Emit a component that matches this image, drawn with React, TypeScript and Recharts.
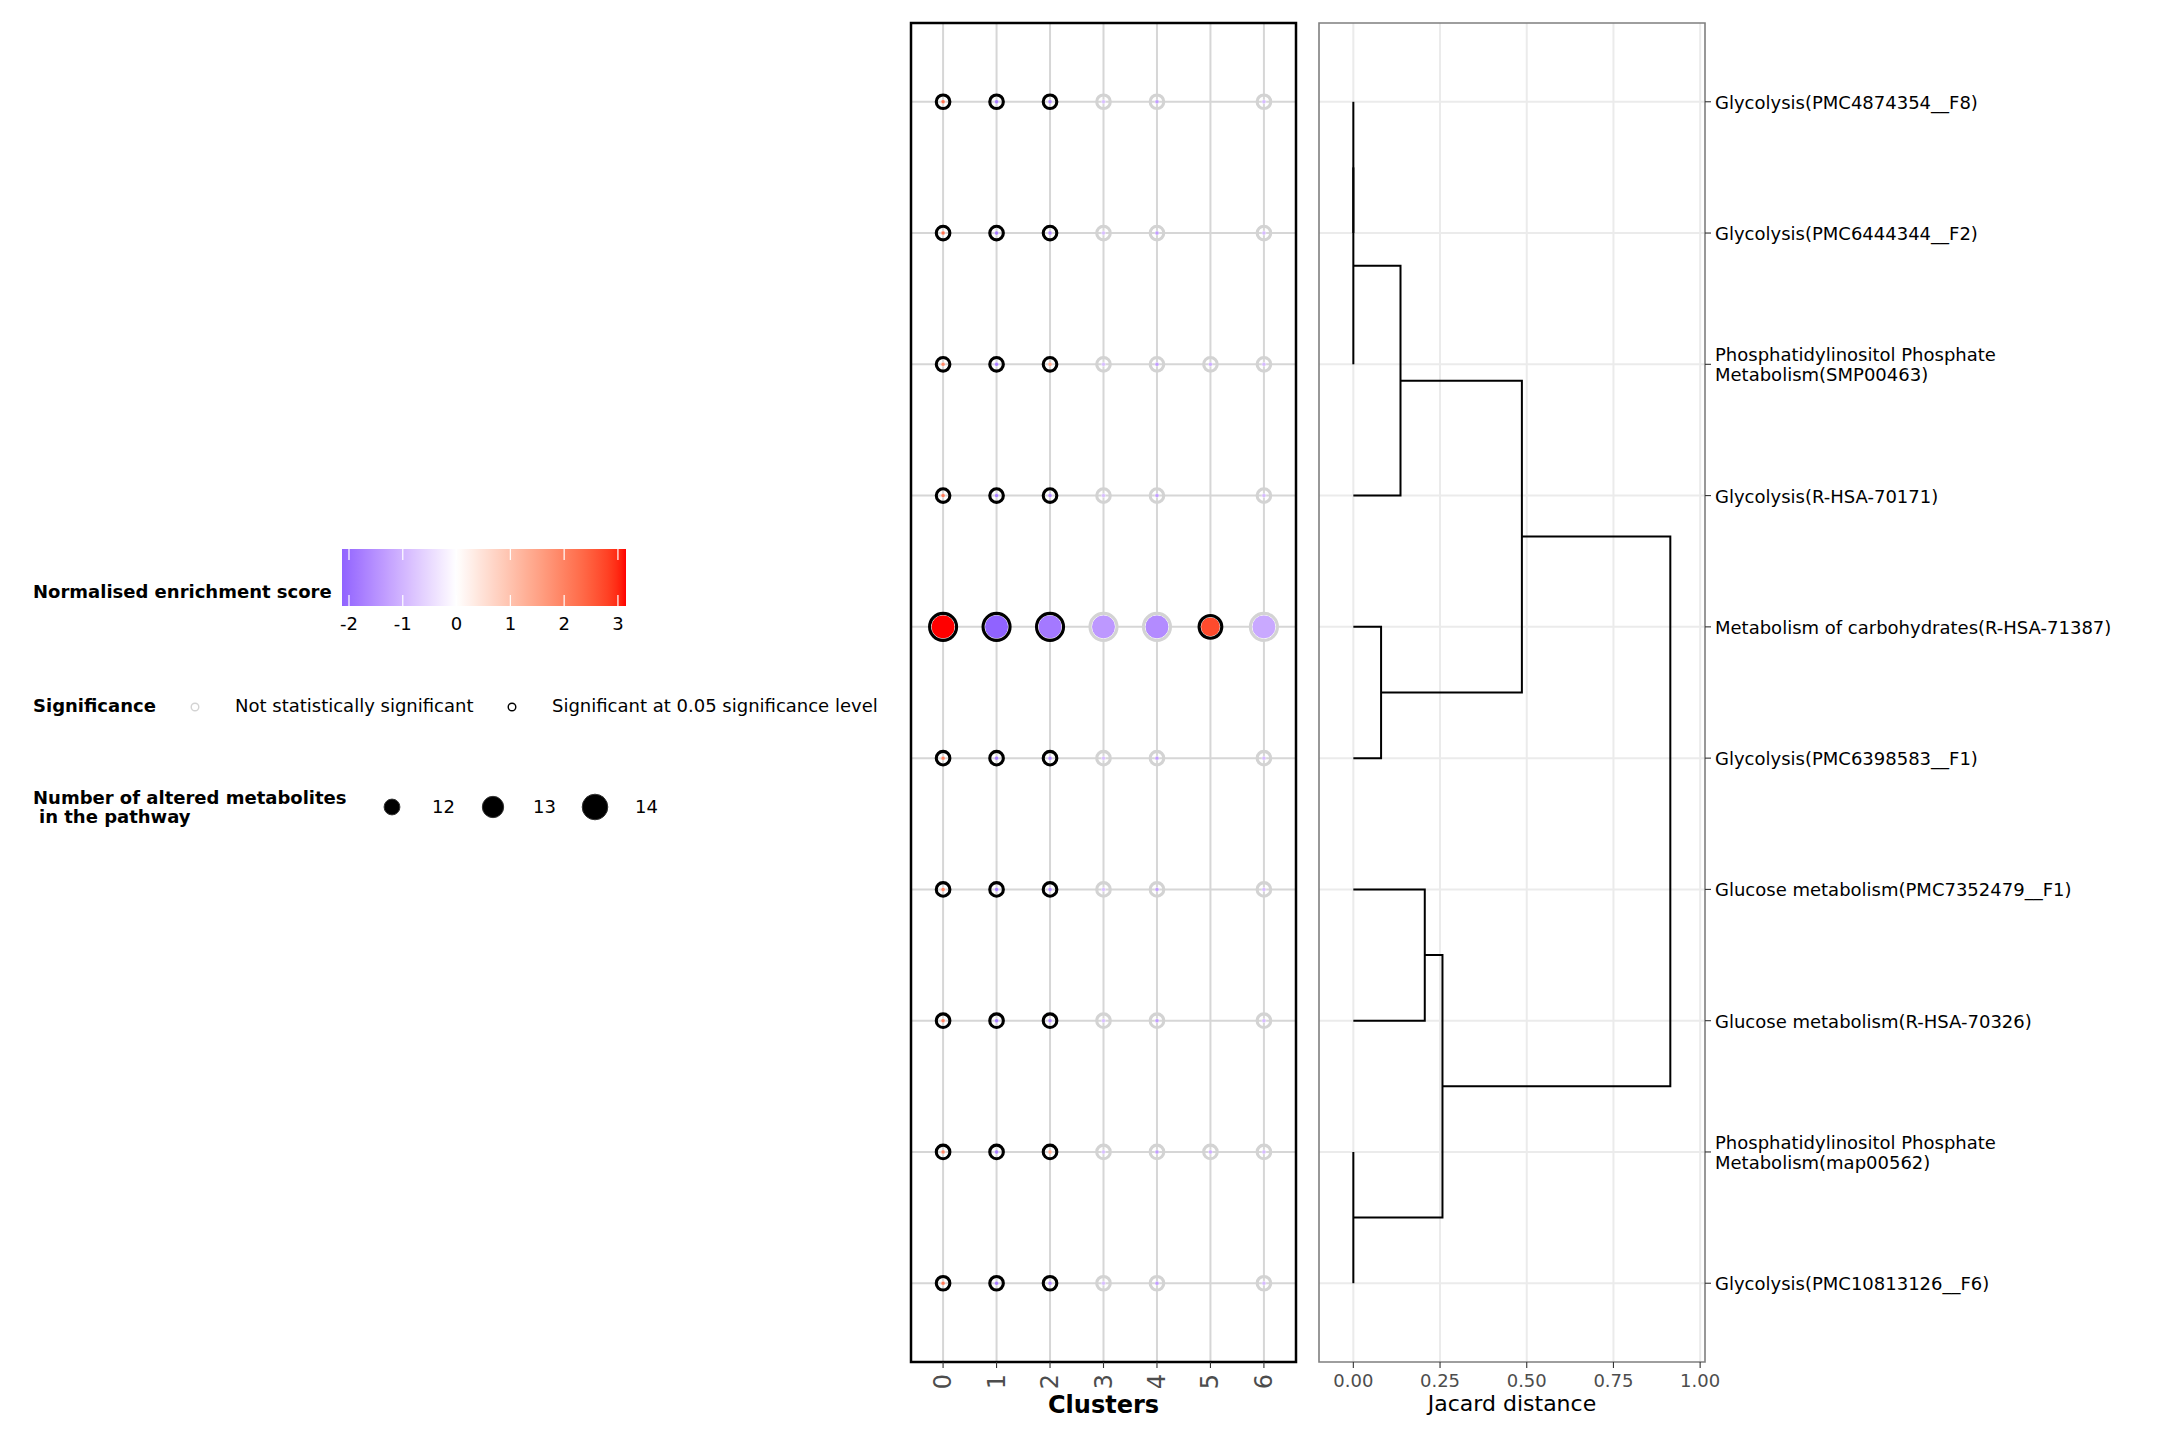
import React from 'react';
import { ScatterChart, Scatter, XAxis, YAxis, ZAxis, CartesianGrid, ReferenceArea } from 'recharts';

const FONT = '"DejaVu Sans", Verdana, sans-serif';
const TXT = 18;

// ---------- data ----------
const clusters = [0, 1, 2, 3, 4, 5, 6];
const rowIndex = [1, 2, 3, 4, 5, 6, 7, 8, 9, 10];
const pathways = [
  'Glycolysis(PMC4874354__F8)',
  'Glycolysis(PMC6444344__F2)',
  'Phosphatidylinositol Phosphate\nMetabolism(SMP00463)',
  'Glycolysis(R-HSA-70171)',
  'Metabolism of carbohydrates(R-HSA-71387)',
  'Glycolysis(PMC6398583__F1)',
  'Glucose metabolism(PMC7352479__F1)',
  'Glucose metabolism(R-HSA-70326)',
  'Phosphatidylinositol Phosphate\nMetabolism(map00562)',
  'Glycolysis(PMC10813126__F6)',
];

// normalised enrichment score per pathway (rows) and cluster (columns); null = not tested
const nesValues: (number | null)[][] = [
  [2.2, -1.8, -1.6, -0.85, -1.3, null, -0.9],
  [2.2, -1.8, -1.6, -0.85, -1.3, null, -0.9],
  [1.9, -1.8, 1.4, -0.85, -1.3, -1.1, -0.9],
  [2.1, -1.8, -1.6, -0.85, -1.3, null, -0.9],
  [3.15, -2.13, -1.83, -1.4, -1.58, 2.7, -1.17],
  [2.0, -1.8, -1.6, -0.85, -1.3, null, -0.9],
  [2.0, -1.8, -1.6, -0.85, -1.3, null, -0.9],
  [2.0, -1.8, -1.6, -0.85, -1.3, null, -0.9],
  [1.9, -1.8, 1.4, -0.85, -1.3, -1.1, -0.9],
  [2.1, -1.8, -1.6, -0.85, -1.3, null, -0.9],
];

// number of altered metabolites in the pathway
const countValues: (number | null)[][] = [
  [11, 11, 11, 11, 11, null, 11],
  [11, 11, 11, 11, 11, null, 11],
  [11, 11, 11, 11, 11, 11, 11],
  [11, 11, 11, 11, 11, null, 11],
  [14, 14, 14, 14, 14, 13, 14],
  [11, 11, 11, 11, 11, null, 11],
  [11, 11, 11, 11, 11, null, 11],
  [11, 11, 11, 11, 11, null, 11],
  [11, 11, 11, 11, 11, 11, 11],
  [11, 11, 11, 11, 11, null, 11],
];

// 1 = significant at 0.05
const sigValues: (number | null)[][] = [
  [1, 1, 1, 0, 0, null, 0],
  [1, 1, 1, 0, 0, null, 0],
  [1, 1, 1, 0, 0, 0, 0],
  [1, 1, 1, 0, 0, null, 0],
  [1, 1, 1, 0, 0, 1, 0],
  [1, 1, 1, 0, 0, null, 0],
  [1, 1, 1, 0, 0, null, 0],
  [1, 1, 1, 0, 0, null, 0],
  [1, 1, 1, 0, 0, 0, 0],
  [1, 1, 1, 0, 0, null, 0],
];

// hclust-style merge table: negative = leaf (row), positive = earlier merge; third = Jaccard height
const dendroMerges: [number, number, number][] = [
  [-1, -2, 0],
  [1, -3, 0],
  [2, -4, 0.136],
  [-5, -6, 0.08],
  [3, 4, 0.486],
  [-7, -8, 0.206],
  [-9, -10, 0],
  [6, 7, 0.257],
  [5, 8, 0.914],
];

const jacardTicks = [0, 0.25, 0.5, 0.75, 1];
const nesTicks = [-2, -1, 0, 1, 2, 3];
const sizeBreaks = [12, 13, 14];
const sigLabels = ['Not statistically significant', 'Significant at 0.05 significance level'];

// ---------- colour scale (ggplot gradient2 in Lab: blue - white - red) ----------
const allNes = nesValues.flat().filter((v): v is number => v !== null);
const nesMin = Math.min(...allNes);
const nesMax = Math.max(...allNes);
const maxAbs = Math.max(Math.abs(nesMin), Math.abs(nesMax));

function toLin(c: number) {
  const v = c / 255;
  return v <= 0.04045 ? v / 12.92 : Math.pow((v + 0.055) / 1.055, 2.4);
}
function fromLin(c: number) {
  const v = c <= 0.0031308 ? 12.92 * c : 1.055 * Math.pow(c, 1 / 2.4) - 0.055;
  return Math.max(0, Math.min(255, Math.round(v * 255)));
}
const Xn = 0.95047, Yn = 1, Zn = 1.08883;
function f(t: number) {
  const d = 6 / 29;
  return t > d * d * d ? Math.cbrt(t) : t / (3 * d * d) + 4 / 29;
}
function finv(t: number) {
  const d = 6 / 29;
  return t > d ? t * t * t : 3 * d * d * (t - 4 / 29);
}
function rgb2lab([r, g, b]: number[]) {
  const R = toLin(r), G = toLin(g), B = toLin(b);
  const X = 0.4124564 * R + 0.3575761 * G + 0.1804375 * B;
  const Y = 0.2126729 * R + 0.7151522 * G + 0.072175 * B;
  const Z = 0.0193339 * R + 0.119192 * G + 0.9503041 * B;
  const fx = f(X / Xn), fy = f(Y / Yn), fz = f(Z / Zn);
  return [116 * fy - 16, 500 * (fx - fy), 200 * (fy - fz)];
}
function lab2hex([L, a, bb]: number[]) {
  const fy = (L + 16) / 116;
  const fx = fy + a / 500;
  const fz = fy - bb / 200;
  const X = Xn * finv(fx), Y = Yn * finv(fy), Z = Zn * finv(fz);
  const R = 3.2404542 * X - 1.5371385 * Y - 0.4985314 * Z;
  const G = -0.969266 * X + 1.8760108 * Y + 0.041556 * Z;
  const B = 0.0556434 * X - 0.2040259 * Y + 1.0572252 * Z;
  const h = (n: number) => fromLin(n).toString(16).padStart(2, '0');
  return '#' + h(R) + h(G) + h(B);
}
const LAB_LOW = rgb2lab([0, 0, 255]);
const LAB_MID = rgb2lab([255, 255, 255]);
const LAB_HIGH = rgb2lab([255, 0, 0]);
function mix(a: number[], b: number[], t: number) {
  return a.map((v, i) => v + (b[i] - v) * t);
}
function nesColor(v: number) {
  const t = v / (2 * maxAbs) + 0.5;
  if (t < 0.5) return lab2hex(mix(LAB_LOW, LAB_MID, t / 0.5));
  return lab2hex(mix(LAB_MID, LAB_HIGH, Math.min(1, (t - 0.5) / 0.5)));
}

// ---------- derived point list ----------
type Pt = { cluster: number; row: number; nes: number; count: number; sig: number };
const dotPoints: Pt[] = [];
rowIndex.forEach((row, ri) => {
  clusters.forEach((c, ci) => {
    const v = nesValues[ri][ci];
    const n = countValues[ri][ci];
    const s = sigValues[ri][ci];
    if (v !== null && n !== null && s !== null) dotPoints.push({ cluster: c, row, nes: v, count: n, sig: s });
  });
});

// size scale (area, linear) shared by plot and legend
const SIZE_DOMAIN: [number, number] = [11, 14];
const SIZE_RANGE: [number, number] = [Math.PI * 2 * 2, Math.PI * 12 * 12];
function sizeRadius(n: number) {
  const t = (n - SIZE_DOMAIN[0]) / (SIZE_DOMAIN[1] - SIZE_DOMAIN[0]);
  return Math.sqrt((SIZE_RANGE[0] + t * (SIZE_RANGE[1] - SIZE_RANGE[0])) / Math.PI);
}

// dendrogram links from merge table
type LinkPt = { d: number; row: number };
function buildLinks(): LinkPt[][] {
  const nodeY: number[] = [];
  const nodeH: number[] = [];
  const pos = (id: number) => (id < 0 ? { y: rowIndex[-id - 1], h: 0 } : { y: nodeY[id - 1], h: nodeH[id - 1] });
  return dendroMerges.map(([a, b, h], i) => {
    const A = pos(a);
    const B = pos(b);
    nodeY[i] = (A.y + B.y) / 2;
    nodeH[i] = h;
    return [
      { d: A.h, row: A.y },
      { d: h, row: A.y },
      { d: h, row: B.y },
      { d: B.h, row: B.y },
    ];
  });
}
const dendroLinks = buildLinks();

// ---------- renderers ----------
const DotShape = (props: any) => {
  const { cx, cy, payload } = props;
  if (cx == null || cy == null) return <g />;
  const r = props.width ? props.width / 2 : Math.sqrt((props.size ?? 64) / Math.PI);
  const ringR = Math.max(r + 1.5, 6.8);
  return (
    <g>
      <circle cx={cx} cy={cy} r={r} fill={nesColor(payload.nes)} stroke="#ffffff" strokeWidth={r > 4 ? 1 : 0.4} />
      <circle cx={cx} cy={cy} r={ringR} fill="none" stroke={payload.sig ? '#000000' : '#D3D3D3'} strokeWidth={3.1} />
    </g>
  );
};

const NoShape = () => <g />;

const ClusterTick = (props: any) => {
  const { x, y, payload } = props;
  return (
    <text
      x={x}
      y={y}
      transform={`rotate(-90 ${x} ${y})`}
      textAnchor="end"
      dominantBaseline="central"
      fontSize={24}
      fill="#4D4D4D"
      fontFamily={FONT}
    >
      {payload.value}
    </text>
  );
};

const PathwayTick = (props: any) => {
  const { x, y, payload } = props;
  const label = pathways[Math.round(payload.value) - 1] ?? '';
  const lines = label.split('\n');
  const lh = 20;
  const start = -((lines.length - 1) * lh) / 2 + 7;
  return (
    <text x={x} y={y} fontSize={TXT} fill="#000000" fontFamily={FONT} textAnchor="start">
      {lines.map((l, i) => (
        <tspan key={i} x={x} dy={i === 0 ? start : lh}>
          {l}
        </tspan>
      ))}
    </text>
  );
};

// ---------- charts ----------
function DotPlot() {
  return (
    <div style={{ position: 'absolute', left: 0, top: 0 }}>
      <ScatterChart width={1300} height={1440} margin={{ top: 23, right: 4, bottom: 18, left: 911 }}>
        <CartesianGrid
          stroke="#D6D6D6"
          strokeWidth={2}
          verticalValues={clusters}
          horizontalValues={rowIndex}
        />
        <XAxis
          type="number"
          dataKey="cluster"
          domain={[-0.6, 6.6]}
          allowDataOverflow
          ticks={clusters}
          interval={0}
          height={60}
          tickSize={6}
          tickMargin={6}
          axisLine={false}
          tickLine={{ stroke: '#333333', strokeWidth: 1.1 }}
          tick={<ClusterTick />}
          label={{ value: 'Clusters', position: 'insideBottom', offset: 9, fill: '#000000', fontSize: 24, fontWeight: 'bold', fontFamily: FONT }}
        />
        <YAxis type="number" dataKey="row" domain={[0.4, 10.6]} allowDataOverflow reversed hide width={0} ticks={rowIndex} />
        <ZAxis type="number" dataKey="count" domain={SIZE_DOMAIN} range={SIZE_RANGE} />
        <Scatter data={dotPoints} shape={<DotShape />} isAnimationActive={false} />
        <ReferenceArea x1={-0.6} x2={6.6} y1={0.4} y2={10.6} fill="none" stroke="#000000" strokeWidth={2.5} ifOverflow="visible" />
      </ScatterChart>
    </div>
  );
}

function Dendrogram() {
  return (
    <div style={{ position: 'absolute', left: 1310, top: 0 }}>
      <ScatterChart width={850} height={1440} margin={{ top: 23, right: 10, bottom: 18, left: 9 }}>
        <CartesianGrid stroke="#EBEBEB" strokeWidth={2} verticalValues={jacardTicks} horizontalValues={rowIndex} />
        <XAxis
          type="number"
          dataKey="d"
          domain={[-0.099, 1.014]}
          allowDataOverflow
          ticks={jacardTicks}
          interval={0}
          height={60}
          tickSize={6}
          tickMargin={6}
          axisLine={false}
          tickLine={{ stroke: '#333333', strokeWidth: 1.1 }}
          tick={{ fill: '#4D4D4D', fontSize: TXT, fontFamily: FONT }}
          tickFormatter={(v: number) => v.toFixed(2)}
          label={{ value: 'Jacard distance', position: 'insideBottom', offset: 11, fill: '#000000', fontSize: 22, fontFamily: FONT }}
        />
        <YAxis
          type="number"
          dataKey="row"
          orientation="right"
          domain={[0.4, 10.6]}
          allowDataOverflow
          reversed
          ticks={rowIndex}
          interval={0}
          width={445}
          tickSize={6}
          tickMargin={4}
          axisLine={false}
          tickLine={{ stroke: '#333333', strokeWidth: 1.1 }}
          tick={<PathwayTick />}
        />
        {dendroLinks.map((link, i) => (
          <Scatter
            key={i}
            data={link}
            line={{ stroke: '#000000', strokeWidth: 2 }}
            lineType="joint"
            shape={<NoShape />}
            isAnimationActive={false}
          />
        ))}
        <ReferenceArea x1={-0.099} x2={1.014} y1={0.4} y2={10.6} fill="none" stroke="#7F7F7F" strokeWidth={1.6} ifOverflow="visible" />
      </ScatterChart>
    </div>
  );
}

function Legends() {
  const barX = 342, barY = 549, barW = 284, barH = 57;
  const xOf = (v: number) => barX + ((v - nesMin) / (nesMax - nesMin)) * barW;
  const nStops = 60;
  const stops = Array.from({ length: nStops + 1 }, (_, i) => {
    const v = nesMin + ((nesMax - nesMin) * i) / nStops;
    return <stop key={i} offset={i / nStops} stopColor={nesColor(v)} />;
  });
  const sizeX = [392, 493, 595];
  return (
    <svg width={900} height={900} style={{ position: 'absolute', left: 0, top: 0 }} fontFamily={FONT}>
      <defs>
        <linearGradient id="nesGrad" x1="0" y1="0" x2="1" y2="0">
          {stops}
        </linearGradient>
      </defs>
      <text x={33} y={598} fontSize={TXT} fontWeight="bold" fill="#000">
        Normalised enrichment score
      </text>
      <rect x={barX} y={barY} width={barW} height={barH} fill="url(#nesGrad)" />
      {nesTicks.map((t) => (
        <g key={t}>
          <line x1={xOf(t)} x2={xOf(t)} y1={barY} y2={barY + 11} stroke="#fff" strokeWidth={1.2} />
          <line x1={xOf(t)} x2={xOf(t)} y1={barY + barH - 11} y2={barY + barH} stroke="#fff" strokeWidth={1.2} />
          <text x={xOf(t)} y={630} fontSize={TXT} textAnchor="middle" fill="#000">
            {String(t)}
          </text>
        </g>
      ))}

      <text x={33} y={712} fontSize={TXT} fontWeight="bold" fill="#000">
        Significance
      </text>
      <circle cx={195} cy={707} r={3.8} fill="none" stroke="#D3D3D3" strokeWidth={1.4} />
      <text x={235} y={712} fontSize={TXT} fill="#000">
        {sigLabels[0]}
      </text>
      <circle cx={512} cy={707} r={3.8} fill="none" stroke="#000" strokeWidth={1.4} />
      <text x={552} y={712} fontSize={TXT} fill="#000">
        {sigLabels[1]}
      </text>

      <text x={33} y={804} fontSize={TXT} fontWeight="bold" fill="#000">
        Number of altered metabolites
      </text>
      <text x={39} y={823} fontSize={TXT} fontWeight="bold" fill="#000">
        in the pathway
      </text>
      {sizeBreaks.map((b, i) => (
        <g key={b}>
          <circle cx={sizeX[i]} cy={807} r={sizeRadius(b) + 0.8} fill="#000" stroke="#333" strokeWidth={1} />
          <text x={sizeX[i] + 40} y={813} fontSize={TXT} fill="#000">
            {b}
          </text>
        </g>
      ))}
    </svg>
  );
}

export default function App() {
  return (
    <div
      style={{
        position: 'relative',
        width: 2160,
        height: 1440,
        background: '#ffffff',
        overflow: 'hidden',
        fontFamily: FONT,
      }}
    >
      <style>{'body{margin:0;}'}</style>
      <Legends />
      <DotPlot />
      <Dendrogram />
    </div>
  );
}
